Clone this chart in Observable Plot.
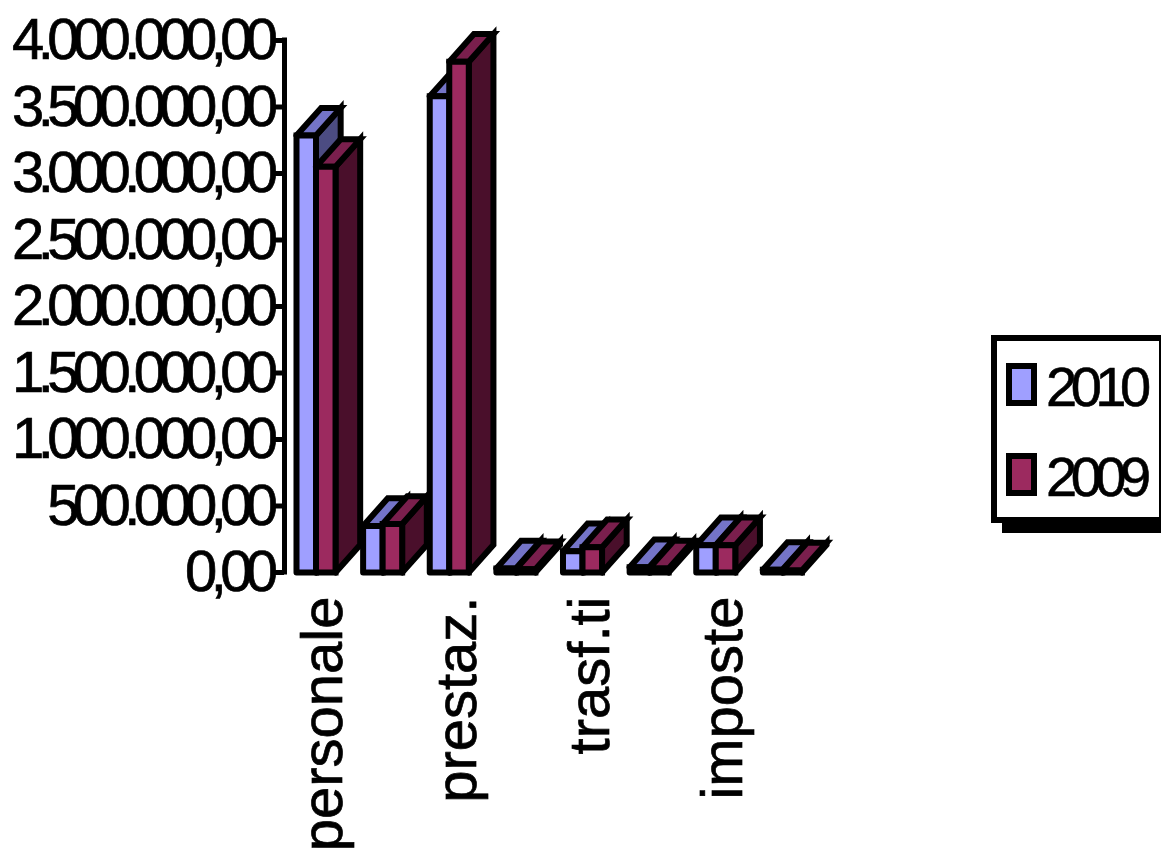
<!DOCTYPE html>
<html>
<head>
<meta charset="utf-8">
<script src="https://cdn.jsdelivr.net/npm/d3@7"></script>
<script src="https://cdn.jsdelivr.net/npm/@observablehq/plot@0.6"></script>
<style>
  html, body { margin: 0; padding: 0; background: #fff; overflow: hidden; width: 1161px; height: 853px; }
  body { position: relative; font-family: "Liberation Sans", Arial, sans-serif; color: #000; }
  [aria-label="y-axis tick label"] { letter-spacing: -6.6px; }
  [aria-label="y-axis tick label"] text, [aria-label="text"] text { stroke: #000; stroke-width: 0.7px; }
  #shadow { position: absolute; left: 1002px; top: 345px; width: 159px; height: 188px; background: #000; }
  #legend { position: absolute; left: 991px; top: 335px; width: 170px; height: 188px; box-sizing: border-box;
            background: #fff; border: 6px solid #000; border-right: 2px solid #000; }
  .sw { position: absolute; left: 1006px; width: 31px; height: 43px; box-sizing: border-box; border: 6px solid #000; }
  .lb { position: absolute; left: 1046px; font-size: 56px; line-height: 56px; letter-spacing: -6.5px; -webkit-text-stroke: 0.6px #000; }
</style>
</head>
<body>
<div id="chart"></div>
<script>
const categories = ["personale", "", "prestaz.", "", "trasf.ti", "", "imposte", ""];
const values2010 = [3285000, 350000, 3580000, 30000, 160000, 40000, 205000, 20000];
const values2009 = [3050000, 365000, 3840000, 25000, 190000, 30000, 205000, 15000];
const seriesNames = ["2010", "2009"];
const frontColors = ["#9F9FFF", "#9C2A5F"];
const topColors = ["#7474C8", "#7A1F4D"];
const sideColors = ["#4C4C82", "#4A0F2B"];
const yTicks = [0, 500000, 1000000, 1500000, 2000000, 2500000, 3000000, 3500000, 4000000];

const fmt = new Intl.NumberFormat("it-IT", {minimumFractionDigits: 2, maximumFractionDigits: 2, useGrouping: "always"});
const pad = 0.18, barW = 0.293, depthX = 0.37, depthY = 208000;

const polys = [];
categories.forEach((c, i) => {
  [values2010[i], values2009[i]].forEach((v, s) => {
    const a = i + pad + s * barW, b = a + barW;
    const add = (kind, color, pts) => pts.forEach(([x, y]) => polys.push({id: `${i}-${s}-${kind}`, x, y, color}));
    add("side", sideColors[s], [[b, 0], [b + depthX, depthY], [b + depthX, v + depthY], [b, v], [b, 0]]);
    add("top", topColors[s], [[a, v], [b, v], [b + depthX, v + depthY], [a + depthX, v + depthY], [a, v]]);
    add("front", frontColors[s], [[a, 0], [b, 0], [b, v], [a, v], [a, 0]]);
  });
});

const labels = categories.map((c, i) => ({c, x: i + 0.5})).filter(d => d.c);

const chart = Plot.plot({
  width: 1161, height: 853,
  marginLeft: 0, marginRight: 0, marginTop: 0, marginBottom: 0,
  style: {background: "white", fontFamily: "'Liberation Sans', Arial, sans-serif", overflow: "hidden"},
  x: {domain: [0, 8], range: [284, 817], axis: null},
  y: {domain: [0, 4000000], range: [572, 40], axis: null},
  color: {type: "identity"},
  marks: [
    Plot.axisY({
      anchor: "left", ticks: yTicks, tickFormat: d => fmt.format(d), tickSize: 12, tickPadding: 1,
      stroke: "#000", strokeWidth: 5, strokeOpacity: 1, fill: "#000", fontSize: 58, label: null, x: 0
    }),
    Plot.ruleX([0], {y1: 0, y2: 4000000, stroke: "#000", strokeWidth: 5, strokeLinecap: "square"}),
    Plot.line(polys, {
      x: "x", y: "y", z: "id", fill: "color", stroke: "#000", strokeWidth: 6,
      strokeLinejoin: "miter", strokeMiterlimit: 10, strokeOpacity: 1
    }),
    Plot.text(labels, {
      x: "x", y: 0, text: "c", rotate: -90, textAnchor: "end", lineAnchor: "middle",
      dy: 24, dx: 6, fontSize: 58, fill: "#000"
    })
  ]
});
document.getElementById("chart").appendChild(chart);

// Legend, to the right of the plot area
const add = (cls, id, css, txt) => {
  const e = document.createElement("div");
  if (cls) e.className = cls;
  if (id) e.id = id;
  Object.assign(e.style, css || {});
  if (txt) e.textContent = txt;
  document.body.appendChild(e);
};
add(null, "shadow");
add(null, "legend");
seriesNames.forEach((n, i) => {
  add("sw", null, {top: (363 + i * 90) + "px", background: frontColors[i]});
  add("lb", null, {top: (359 + i * 90) + "px"}, n);
});
</script>
</body>
</html>
